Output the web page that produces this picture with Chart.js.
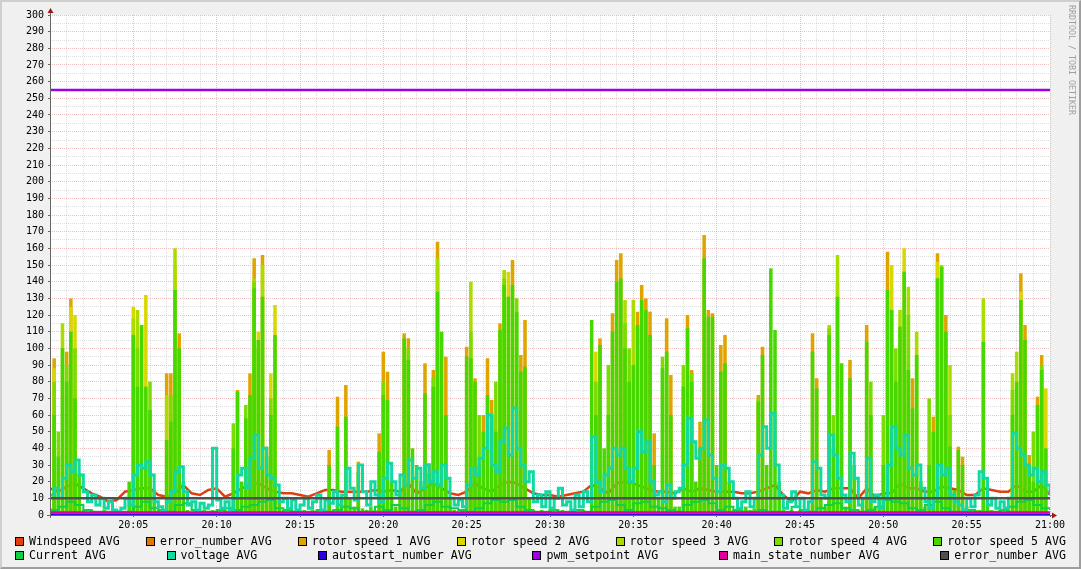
<!DOCTYPE html>
<html>
<head>
<meta charset="utf-8">
<script src="https://cdn.jsdelivr.net/npm/chart.js@4.4.1/dist/chart.umd.min.js"></script>
<style>
  body { margin: 0; background: #F0F0F0; }
  #wrap { position: relative; width: 1081px; height: 569px; background: #F0F0F0; overflow: hidden; }
  #myChart { position: absolute; left: 0; top: 0; }
  #frame {
    position: absolute; left: 0; top: 0; width: 1081px; height: 569px; box-sizing: border-box;
    border-top: 2px solid #CFCFCF; border-left: 2px solid #CFCFCF;
    border-right: 2px solid #9E9E9E; border-bottom: 2px solid #9E9E9E;
    pointer-events: none;
  }
  .legend-row {
    position: absolute; left: 15px; right: 15px; height: 14px;
    display: flex; justify-content: space-between; align-items: center;
    font: 11.6px 'DejaVu Sans Mono', monospace; color: #000; white-space: pre;
  }
  .legend-item { display: flex; align-items: center; }
  .legend-box { width: 9px; height: 9px; box-sizing: border-box; border: 1px solid #000; margin-right: 5px; }
  #credit {
    position: absolute; left: 1067px; top: 5px; writing-mode: vertical-rl;
    font: 8.3px 'DejaVu Sans Mono', monospace; color: #A0A0A0;
  }
</style>
</head>
<body>
<div id="wrap">
  <canvas id="myChart" width="1081" height="569"></canvas>
  <div id="legend"></div>
  <div id="credit">RRDTOOL / TOBI OETIKER</div>
  <div id="frame"></div>
</div>
<script>
// x axis labels (minutes after 20:00 -> every 5 min)
const timeLabels = ['20:05', '20:10', '20:15', '20:20', '20:25', '20:30', '20:35', '20:40', '20:45', '20:50', '20:55', '21:00'];

const legendNames = [
  'Windspeed AVG', 'error_number AVG', 'rotor speed 1 AVG', 'rotor speed 2 AVG', 'rotor speed 3 AVG',
  'rotor speed 4 AVG', 'rotor speed 5 AVG', 'Current AVG', 'voltage AVG', 'autostart_number AVG',
  'pwm_setpoint AVG', 'main_state_number AVG', 'error_number AVG'
];
const seriesColors = [
  '#E04010', '#E07800', '#E0A400', '#D8D800', '#AADC00',
  '#7ADC00', '#46D800', '#12D044', '#12D8A2', '#2A00E0',
  '#A000E0', '#E000A0', '#505050'
];

// windspeed, one value every 30 s (20:00 .. 21:00)
const windspeed = [
  16, 14, 17, 19, 16, 13, 11, 8, 9, 14, 15, 16, 16, 12, 11, 13, 18, 13, 12, 15, 16, 11, 13, 16,
  18, 19, 16, 14, 13, 13, 12, 11, 13, 15, 15, 14, 14, 14, 14, 15, 14, 15, 14, 19, 13, 16, 19, 16,
  13, 12, 14, 19, 16, 14, 18, 20, 19, 16, 13, 12, 12, 11, 12, 13, 14, 18, 16, 13, 19, 20, 19, 17,
  15, 14, 14, 13, 16, 14, 16, 15, 14, 14, 14, 13, 13, 14, 16, 18, 12, 8, 14, 13, 15, 14, 16, 16,
  16, 10, 16, 11, 13, 13, 19, 16, 16, 14, 14, 17, 16, 15, 12, 12, 16, 15, 14, 14, 18, 14, 14, 18, 12
];

// current, one value every 30 s
const current = [
  3, 5, 8, 6, 3, 2, 2, 2, 2, 2, 5, 8, 4, 3, 2, 6, 7, 3, 2, 2, 3, 4, 3, 5,
  6, 8, 9, 4, 3, 2, 2, 2, 3, 2, 3, 5, 4, 2, 2, 5, 3, 6, 4, 2, 3, 6, 8, 5,
  4, 3, 2, 4, 7, 9, 8, 9, 5, 3, 2, 2, 3, 2, 2, 3, 2, 5, 8, 9, 6, 3, 7, 8,
  5, 4, 3, 2, 6, 8, 9, 7, 3, 5, 3, 2, 2, 3, 2, 2, 2, 5, 3, 2, 4, 6, 7, 4,
  3, 2, 3, 5, 9, 8, 7, 4, 3, 6, 8, 4, 2, 2, 3, 2, 2, 2, 3, 5, 8, 9, 6, 4, 3
];

// voltage, one value every 15 s
const voltage = [
  12, 16, 10, 22, 30, 26, 33, 24, 14, 8, 12, 6,
  10, 4, 8, 3, 2, 4, 10, 6, 24, 30, 28, 32,
  24, 8, 5, 3, 8, 14, 26, 29, 14, 6, 8, 3,
  7, 4, 6, 40, 9, 4, 8, 3, 10, 24, 28, 16,
  34, 48, 28, 40, 24, 22, 18, 8, 10, 4, 9, 3,
  6, 10, 4, 8, 12, 3, 9, 7, 14, 6, 12, 28,
  16, 9, 30, 14, 6, 20, 12, 8, 22, 31, 20, 12,
  24, 18, 33, 22, 28, 16, 30, 20, 26, 18, 30, 22,
  10, 6, 9, 5, 18, 28, 24, 34, 40, 60, 30, 26,
  44, 52, 36, 64, 40, 30, 20, 26, 8, 12, 5, 14,
  4, 10, 16, 6, 8, 3, 12, 5, 14, 8, 47, 20,
  14, 24, 28, 40, 36, 40, 28, 20, 28, 50, 38, 44,
  20, 12, 14, 8, 18, 10, 14, 16, 30, 58, 44, 34,
  40, 57, 36, 22, 14, 30, 28, 20, 10, 4, 8, 14,
  5, 10, 36, 53, 40, 61, 30, 12, 4, 8, 14, 5,
  10, 3, 8, 32, 28, 12, 10, 48, 36, 22, 12, 8,
  37, 22, 6, 10, 34, 8, 12, 4, 10, 30, 53, 40,
  36, 48, 28, 24, 30, 16, 8, 4, 10, 30, 24, 28,
  12, 8, 6, 3, 10, 5, 12, 26, 22, 6, 10, 4,
  8, 4, 10, 49, 40, 36, 30, 24, 28, 20, 26, 18,
  12
];

// rotor speed 5, one value every 15 s
const rotorSpeed5 = [
  4, 60, 35, 100, 80, 110, 70, 25, 3, 2, 3, 2,
  2, 3, 2, 2, 3, 2, 2, 20, 108, 77, 114, 77,
  63, 15, 3, 3, 45, 56, 135, 100, 20, 3, 2, 3,
  2, 3, 2, 3, 2, 2, 3, 2, 40, 74, 20, 58,
  72, 136, 105, 131, 35, 60, 108, 10, 3, 2, 3, 2,
  2, 3, 2, 3, 2, 2, 3, 30, 3, 53, 10, 59,
  10, 5, 26, 4, 3, 5, 3, 38, 72, 69, 20, 5,
  15, 106, 93, 40, 30, 20, 73, 25, 77, 134, 110, 60,
  10, 3, 2, 3, 95, 94, 80, 30, 50, 72, 60, 50,
  111, 138, 131, 138, 122, 86, 89, 10, 3, 2, 3, 2,
  3, 2, 2, 3, 2, 3, 2, 2, 3, 2, 117, 60,
  102, 40, 60, 110, 140, 142, 100, 80, 90, 114, 129, 123,
  108, 30, 10, 88, 98, 60, 5, 5, 77, 112, 80, 20,
  40, 154, 119, 119, 30, 86, 91, 20, 3, 4, 3, 5,
  3, 4, 68, 96, 30, 148, 111, 20, 3, 2, 3, 2,
  3, 2, 3, 98, 76, 10, 5, 108, 40, 131, 91, 5,
  82, 30, 3, 10, 104, 60, 5, 10, 30, 135, 123, 80,
  113, 146, 87, 64, 96, 20, 5, 30, 50, 142, 149, 110,
  41, 15, 39, 30, 5, 3, 3, 3, 104, 10, 3, 2,
  3, 2, 3, 60, 80, 129, 105, 30, 20, 66, 87, 40
];

// rotor speeds 1-4 only stand out above rotor 5 at their peaks: [sample index, value]
const rotorSpeed1Peaks = [
  [1, 94], [4, 98], [5, 130], [28, 85], [29, 85], [31, 109], [45, 75], [48, 85], [49, 154], [51, 156],
  [52, 41], [67, 39], [69, 71], [71, 78], [74, 32], [79, 49], [80, 98], [81, 86], [85, 109], [86, 106],
  [90, 91], [91, 31], [92, 87], [93, 164], [95, 95], [100, 101], [102, 82], [104, 60], [105, 94], [106, 69],
  [108, 115], [111, 153], [113, 96], [114, 117], [132, 106], [135, 121], [136, 153], [137, 157], [141, 122], [142, 138],
  [143, 130], [144, 122], [145, 49], [148, 118], [149, 84], [153, 120], [154, 87], [156, 56], [157, 168], [158, 123],
  [159, 121], [161, 102], [162, 108], [170, 72], [171, 101], [183, 109], [184, 82], [192, 93], [196, 114], [201, 158],
  [207, 82], [212, 59], [213, 157], [215, 120], [218, 41], [219, 35], [233, 145], [234, 114], [235, 36], [237, 71],
  [238, 96]
];
const rotorSpeed2Peaks = [
  [1, 88], [5, 125], [6, 120], [20, 125], [23, 132], [30, 150], [50, 110], [53, 85], [54, 126], [93, 150],
  [110, 146], [131, 98], [189, 140], [202, 150], [205, 160], [213, 152], [233, 134], [239, 76]
];
const rotorSpeed3Peaks = [
  [3, 115], [20, 118], [21, 123], [28, 72], [30, 160], [49, 142], [51, 150], [93, 154], [101, 140], [109, 147],
  [138, 129], [140, 129], [187, 114], [189, 156], [204, 123], [206, 137], [208, 110], [214, 150], [216, 90], [224, 130],
  [231, 85], [232, 98]
];
const rotorSpeed4Peaks = [
  [1, 80], [2, 50], [4, 90], [6, 100], [21, 100], [24, 80], [29, 72], [44, 55], [47, 66], [49, 140],
  [50, 100], [53, 70], [80, 80], [86, 100], [92, 82], [101, 110], [103, 60], [107, 80], [109, 142], [112, 130],
  [131, 80], [134, 90], [138, 115], [139, 100], [147, 95], [152, 90], [154, 85], [170, 70], [187, 112], [188, 60],
  [197, 80], [200, 60], [203, 100], [206, 120], [211, 70], [216, 60], [231, 75], [236, 50], [238, 90]
];

// flat series over the whole hour (start, end)
const flatTimes = [0, 60];
const errorNumberA = [0, 0];
const autostartNumber = [0, 0];
const pwmSetpoint = [255, 255];
const mainStateNumber = [1.5, 1.5];
const errorNumberB = [10, 10];

// ---------------------------------------------------------------

const fine = 0.25;   // 15 s in minutes
const coarse = 0.5;  // 30 s in minutes
const monoFont = { family: 'DejaVu Sans Mono', size: 10 };

const toPoints = (values, step) => values.map((v, i) => ({ x: i * step, y: v }));
const peaksToPoints = (peaks) => peaks.map(([i, v]) => ({ x: i * fine, y: v }));
const flatPoints = (values) => values.map((v, i) => ({ x: flatTimes[i], y: v }));

const line = (idx, data, extra) => Object.assign({
  type: 'line', label: legendNames[idx], data: data,
  borderColor: seriesColors[idx], borderWidth: 2.5,
  pointRadius: 0, fill: false, tension: 0
}, extra || {});

const bar = (idx, data) => ({
  type: 'bar', label: legendNames[idx], data: data,
  backgroundColor: seriesColors[idx], borderWidth: 0,
  barPercentage: 0.85, categoryPercentage: 1, grouped: false
});

const datasets = [
  line(0, toPoints(windspeed, coarse)),
  line(1, flatPoints(errorNumberA)),
  bar(2, peaksToPoints(rotorSpeed1Peaks)),
  bar(3, peaksToPoints(rotorSpeed2Peaks)),
  bar(4, peaksToPoints(rotorSpeed3Peaks)),
  bar(5, peaksToPoints(rotorSpeed4Peaks)),
  bar(6, toPoints(rotorSpeed5, fine)),
  line(7, toPoints(current, coarse), { stepped: true, borderWidth: 2 }),
  line(8, toPoints(voltage, fine), { stepped: true, borderWidth: 3 }),
  line(9, flatPoints(autostartNumber)),
  line(10, flatPoints(pwmSetpoint)),
  line(11, flatPoints(mainStateNumber)),
  line(12, flatPoints(errorNumberB))
];
// rrdtool paints in definition order, later series on top
datasets.forEach((d, i) => { d.order = datasets.length - i; });

const isMajor = (c, every) => c.tick && Math.round(c.tick.value) % every === 0;

// white canvas + axes with arrows like rrdtool
const rrdFrame = {
  id: 'rrdFrame',
  beforeDraw(chart) {
    const { ctx, chartArea: a } = chart;
    ctx.save();
    ctx.fillStyle = '#FFFFFF';
    ctx.fillRect(a.left, a.top, a.right - a.left, a.bottom - a.top);
    ctx.restore();
  },
  afterDatasetsDraw(chart) {
    const { ctx, chartArea: a } = chart;
    ctx.save();
    ctx.strokeStyle = '#666666';
    ctx.lineWidth = 1;
    ctx.beginPath();
    ctx.moveTo(a.left - 3, a.bottom + 0.5);
    ctx.lineTo(a.right + 2, a.bottom + 0.5);
    ctx.moveTo(a.left + 0.5, a.bottom + 3);
    ctx.lineTo(a.left + 0.5, a.top - 3);
    ctx.stroke();
    ctx.fillStyle = '#A01818';
    ctx.beginPath();
    ctx.moveTo(a.left + 0.5, a.top - 7);
    ctx.lineTo(a.left - 2.5, a.top - 2);
    ctx.lineTo(a.left + 3.5, a.top - 2);
    ctx.fill();
    ctx.beginPath();
    ctx.moveTo(a.right + 7, a.bottom + 0.5);
    ctx.lineTo(a.right + 2, a.bottom - 2.5);
    ctx.lineTo(a.right + 2, a.bottom + 3.5);
    ctx.fill();
    ctx.restore();
  }
};

const majorGrid = 'rgba(230, 140, 140, 0.55)';
const minorGrid = 'rgba(190, 190, 190, 0.5)';

new Chart(document.getElementById('myChart'), {
  type: 'bar',
  data: { datasets: datasets },
  options: {
    responsive: false,
    animation: false,
    devicePixelRatio: 1,
    layout: { padding: { top: 15, right: 31, bottom: 34, left: 0 } },
    plugins: { legend: { display: false }, tooltip: { enabled: false } },
    scales: {
      x: {
        type: 'linear', min: 0, max: 60, offset: false,
        ticks: {
          stepSize: 1, autoSkip: false, maxRotation: 0, minRotation: 0, padding: 2,
          color: '#000', font: monoFont,
          callback: (v) => (v > 0 && v % 5 === 0) ? timeLabels[v / 5 - 1] : ''
        },
        grid: {
          offset: false, lineWidth: 1, tickLength: 2,
          color: (c) => isMajor(c, 5) ? majorGrid : minorGrid,
          tickColor: (c) => isMajor(c, 5) ? '#666666' : 'rgba(0,0,0,0)'
        },
        border: { display: false, dash: [1, 1] },
        afterFit: (s) => { s.height = 20; }
      },
      y: {
        type: 'linear', min: 0, max: 300,
        ticks: {
          stepSize: 5, autoSkip: false, padding: 4, color: '#000', font: monoFont,
          callback: (v) => v % 10 === 0 ? String(v) : ''
        },
        grid: {
          lineWidth: 1, tickLength: 2,
          color: (c) => isMajor(c, 10) ? majorGrid : minorGrid,
          tickColor: (c) => isMajor(c, 10) ? '#666666' : 'rgba(0,0,0,0)'
        },
        border: { display: false, dash: [1, 1] },
        afterFit: (s) => { s.width = 50; }
      }
    }
  },
  plugins: [rrdFrame]
});

// rrdtool style legend: two justified rows
const legendRows = [[0, 1, 2, 3, 4, 5, 6], [7, 8, 9, 10, 11, 12]];
const legendEl = document.getElementById('legend');
legendRows.forEach((row, r) => {
  const rowEl = document.createElement('div');
  rowEl.className = 'legend-row';
  rowEl.style.top = (534 + r * 14) + 'px';
  row.forEach((idx) => {
    const item = document.createElement('div');
    item.className = 'legend-item';
    const box = document.createElement('span');
    box.className = 'legend-box';
    box.style.background = seriesColors[idx];
    const txt = document.createElement('span');
    txt.textContent = legendNames[idx];
    item.appendChild(box);
    item.appendChild(txt);
    rowEl.appendChild(item);
  });
  legendEl.appendChild(rowEl);
});
</script>
</body>
</html>
